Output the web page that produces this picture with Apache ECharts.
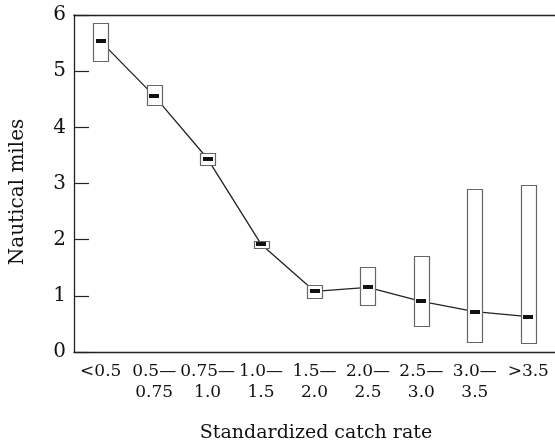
<!DOCTYPE html>
<html>
<head>
<meta charset="utf-8">
<script src="https://cdn.jsdelivr.net/npm/echarts@6/dist/echarts.min.js"></script>
<style>
html,body{margin:0;padding:0;background:#fff;}
#chart{width:555px;height:444px;}
</style>
</head>
<body>
<div id="chart"></div>
<script>
var categories = ['<0.5', '0.5—\n0.75', '0.75—\n1.0', '1.0—\n1.5', '1.5—\n2.0', '2.0—\n2.5', '2.5—\n3.0', '3.0—\n3.5', '>3.5'];
var means = [5.53, 4.56, 3.44, 1.92, 1.08, 1.15, 0.90, 0.72, 0.63];
var lows  = [5.19, 4.39, 3.32, 1.86, 0.97, 0.85, 0.47, 0.19, 0.15];
var highs = [5.86, 4.75, 3.54, 1.98, 1.20, 1.52, 1.71, 2.91, 2.97];
var yTicks = [0, 1, 2, 3, 4, 5, 6];

var FONT = '"DejaVu Serif", serif';
var boxData = categories.map(function (c, i) { return [i, lows[i], highs[i], means[i]]; });

var chart = echarts.init(document.getElementById('chart'), null, {renderer: 'canvas'});
chart.setOption({
  animation: false,
  backgroundColor: '#fff',
  grid: {left: 74, right: -4, top: 15, bottom: 92},
  xAxis: [{
    type: 'category',
    data: categories,
    boundaryGap: true,
    axisLine: {lineStyle: {color: '#222', width: 1.3}},
    axisTick: {inside: true, length: 15, interval: 0, lineStyle: {color: '#222', width: 1.2}},
    axisLabel: {interval: 0, margin: 9, color: '#111', fontFamily: FONT, fontSize: 17, lineHeight: 21},
    splitLine: {show: false}
  }, {
    type: 'category',
    position: 'top',
    data: categories,
    axisLine: {lineStyle: {color: '#222', width: 1.3}},
    axisTick: {show: false},
    axisLabel: {show: false}
  }],
  yAxis: {
    type: 'value',
    min: yTicks[0], max: yTicks[yTicks.length - 1], interval: 1,
    axisLine: {show: true, lineStyle: {color: '#222', width: 1.3}},
    axisTick: {show: true, inside: true, length: 15, lineStyle: {color: '#222', width: 1.2}},
    axisLabel: {margin: 8, color: '#111', fontFamily: FONT, fontSize: 20},
    splitLine: {show: false}
  },
  graphic: [
    {type: 'text', x: 316, y: 433, style: {text: 'Standardized catch rate', font: '19px ' + FONT, fill: '#111', textAlign: 'center', textVerticalAlign: 'middle'}},
    {type: 'text', x: 18, y: 192, rotation: Math.PI / 2, style: {text: 'Nautical miles', font: '20px ' + FONT, fill: '#111', textAlign: 'center', textVerticalAlign: 'middle'}}
  ],
  series: [{
    type: 'line',
    data: means,
    symbol: 'none',
    lineStyle: {color: '#222', width: 1.3},
    z: 1
  }, {
    type: 'custom',
    data: boxData,
    z: 2,
    renderItem: function (params, api) {
      var x = api.value(0);
      var lo = api.coord([x, api.value(1)]);
      var hi = api.coord([x, api.value(2)]);
      var mn = api.coord([x, api.value(3)]);
      var w = 15;
      return {
        type: 'group',
        children: [{
          type: 'rect',
          shape: {x: Math.round(lo[0] - w / 2) + 0.5, y: Math.round(hi[1]) + 0.5, width: w, height: Math.round(lo[1] - hi[1])},
          style: {fill: '#fff', stroke: '#666', lineWidth: 1.2}
        }, {
          type: 'rect',
          shape: {x: Math.round(mn[0] - 5), y: Math.round(mn[1] - 2), width: 10, height: 4},
          style: {fill: '#111'}
        }]
      };
    }
  }]
});
</script>
</body>
</html>
